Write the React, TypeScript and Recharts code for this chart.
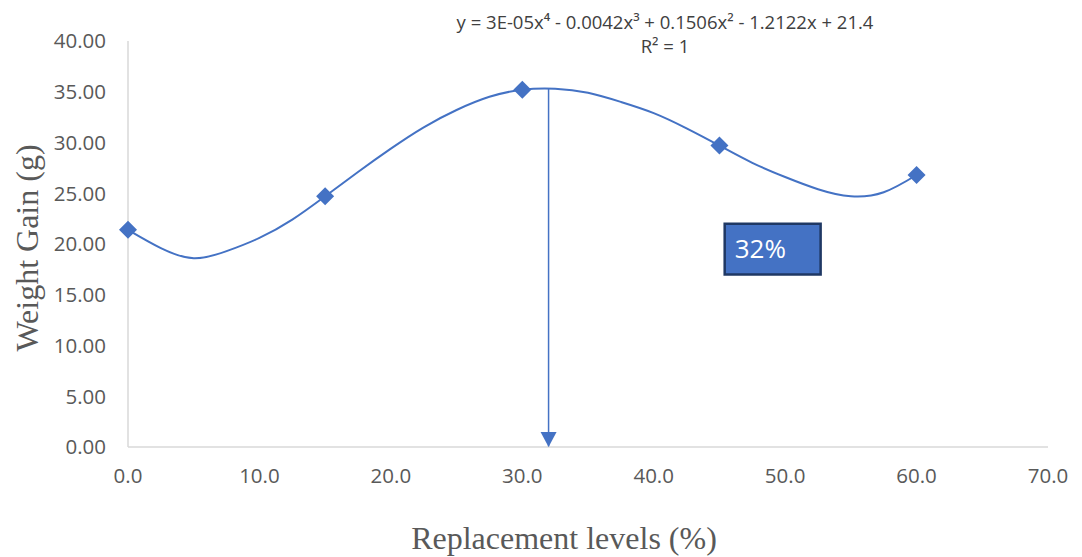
import {
  ComposedChart,
  Line,
  Scatter,
  XAxis,
  YAxis,
  ReferenceArea,
} from "recharts";

// measured weight gain at each replacement level
const levels = [0, 15, 30, 45, 60];
const weightGain = [21.4, 24.7, 35.2, 29.7, 26.8];

// polynomial trendline
const trendLevels = [
  0, 2.5, 5, 7.5, 10, 12.5, 15, 17.5, 20, 22.5, 25, 27.5, 30, 32.5, 35, 37.5,
  40, 42.5, 45, 47.5, 50, 52.5, 55, 57.5, 60,
];
const trendGain = [
  21.4, 19.6, 18.6, 19.3, 20.6, 22.4, 24.7, 27.1, 29.4, 31.5, 33.2, 34.5,
  35.2, 35.3, 34.9, 34.0, 32.9, 31.4, 29.7, 28.0, 26.6, 25.4, 24.7, 25.1, 26.8,
];

// optimum level marked by the arrow
const optimumLevel = 32;
const optimumGain = 35.3;

const xTicks = [0, 10, 20, 30, 40, 50, 60, 70];
const yTicks = [0, 5, 10, 15, 20, 25, 30, 35, 40];

const equation = "y = 3E-05x⁴ - 0.0042x³ + 0.1506x² - 1.2122x + 21.4";
const rSquared = "R² = 1";

const points = levels.map((x, i) => ({ x, y: weightGain[i] }));
const trend = trendLevels.map((x, i) => ({ x, y: trendGain[i] }));
const arrow = [
  { x: optimumLevel, y: optimumGain },
  { x: optimumLevel, y: 0 },
];

const BLUE = "#4472C4";
const GREY = "#595959";
const SANS = "'Open Sans', sans-serif";
const SERIF = "'Liberation Serif', 'Times New Roman', serif";

const Diamond = (props: any) => {
  const { cx, cy } = props;
  const r = 9;
  return (
    <polygon
      points={`${cx},${cy - r} ${cx + r},${cy} ${cx},${cy + r} ${cx - r},${cy}`}
      fill={BLUE}
    />
  );
};

const ArrowHead = (props: any) => {
  const { cx, cy, index } = props;
  if (index !== 1) return <g key={`a${index}`} />;
  return (
    <polygon
      key={`a${index}`}
      points={`${cx - 8},${cy - 15} ${cx + 8},${cy - 15} ${cx},${cy}`}
      fill={BLUE}
    />
  );
};

export default function App() {
  return (
    <div
      style={{
        position: "absolute",
        left: 0,
        top: 0,
        width: 1082,
        height: 557,
        background: "#fff",
      }}
    >
      <ComposedChart
        width={1082}
        height={557}
        margin={{ top: 41, right: 34, bottom: 0, left: 0 }}
      >
        <XAxis
          type="number"
          dataKey="x"
          domain={[0, 70]}
          ticks={xTicks}
          tickFormatter={(v: number) => v.toFixed(1)}
          height={110}
          tickLine={false}
          tickSize={0}
          tickMargin={21}
          axisLine={{ stroke: "#d9d9d9", strokeWidth: 1.5 }}
          tick={{ fill: GREY, fontSize: 20.5, fontFamily: SANS }}
        />
        <YAxis
          type="number"
          dataKey="y"
          domain={[0, 40]}
          ticks={yTicks}
          tickFormatter={(v: number) => v.toFixed(2)}
          width={128}
          tickLine={false}
          tickSize={0}
          tickMargin={22}
          axisLine={{ stroke: "#d9d9d9", strokeWidth: 1.5 }}
          tick={{ fill: GREY, fontSize: 20.5, fontFamily: SANS }}
        />
        <ReferenceArea
          x1={45.4}
          x2={52.7}
          y1={17}
          y2={22}
          fill={BLUE}
          fillOpacity={1}
          stroke="#1F3864"
          strokeWidth={2.5}
          label={{
            value: "32%",
            position: "insideLeft",
            offset: 10,
            fill: "#fff",
            fontSize: 26,
            fontFamily: SANS,
          }}
        />
        <Line
          data={trend}
          dataKey="y"
          type="natural"
          stroke={BLUE}
          strokeWidth={2}
          dot={false}
          activeDot={false}
          isAnimationActive={false}
        />
        <Line
          data={arrow}
          dataKey="y"
          type="linear"
          stroke={BLUE}
          strokeWidth={1.5}
          dot={ArrowHead}
          activeDot={false}
          isAnimationActive={false}
        />
        <Scatter
          data={points}
          dataKey="y"
          shape={Diamond}
          isAnimationActive={false}
        />
      </ComposedChart>

      <div
        style={{
          position: "absolute",
          left: 400,
          top: 10,
          width: 530,
          textAlign: "center",
          fontFamily: SANS,
          fontSize: 18.5,
          lineHeight: "24px",
          color: "#404040",
        }}
      >
        <div>{equation}</div>
        <div>{rSquared}</div>
      </div>

      <div
        style={{
          position: "absolute",
          left: 27,
          top: 248,
          transform: "translate(-50%, -50%) rotate(-90deg)",
          whiteSpace: "nowrap",
          fontFamily: SERIF,
          fontSize: 32,
          color: GREY,
        }}
      >
        Weight Gain (g)
      </div>

      <div
        style={{
          position: "absolute",
          left: 564,
          top: 538,
          transform: "translate(-50%, -50%)",
          whiteSpace: "nowrap",
          fontFamily: SERIF,
          fontSize: 32,
          color: GREY,
        }}
      >
        Replacement levels (%)
      </div>
    </div>
  );
}
